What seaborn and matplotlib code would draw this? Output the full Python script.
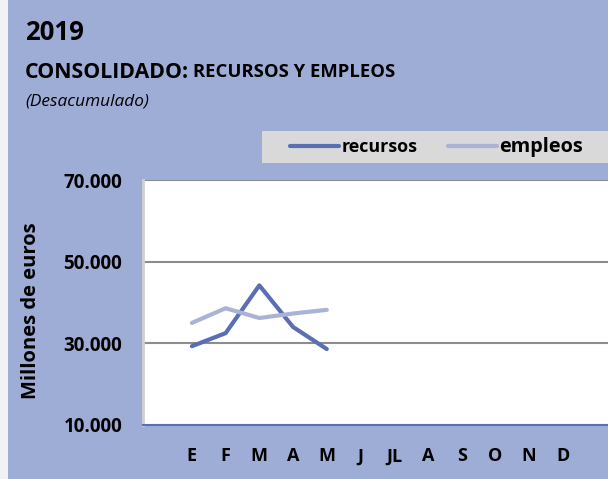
import pandas as pd
import matplotlib.pyplot as plt
import seaborn as sb
from matplotlib.patches import Rectangle
from matplotlib.ticker import FuncFormatter

# datos (millones de euros, desacumulado)
meses = ['E', 'F', 'M', 'A', 'M', 'J', 'JL', 'A', 'S', 'O', 'N', 'D']
recursos = [29300, 32500, 44200, 34000, 28600]
empleos = [35000, 38600, 36200, 37300, 38200]

dados = pd.DataFrame({
    'mes': list(range(len(recursos))) * 2,
    'valor': recursos + empleos,
    'serie': ['recursos'] * len(recursos) + ['empleos'] * len(empleos),
})

sb.set_style('white')
plt.rcParams['font.family'] = ['Open Sans', 'DejaVu Sans']
plt.rcParams['text.color'] = 'black'
plt.rcParams['axes.labelcolor'] = 'black'
plt.rcParams['xtick.color'] = 'black'
plt.rcParams['ytick.color'] = 'black'

fondo = '#9EADD5'
fig = plt.figure(figsize=(6.08, 4.79), dpi=100, facecolor=fondo)
# franja gris a la izquierda
fig.patches.append(Rectangle((0, 0), 8 / 608, 1, transform=fig.transFigure,
                             facecolor='#F2F2F2', edgecolor='none', zorder=0))

ax = fig.add_axes([143 / 608, 1 - 425 / 479, 1 - 143 / 608, (425 - 180) / 479])
sb.lineplot(dados, x='mes', y='valor', hue='serie',
            palette={'recursos': '#5A6EB4', 'empleos': '#AAB3D5'},
            linewidth=3, ax=ax, legend=False)

ax.set_xlim(-1.45, 12.34)
ax.set_ylim(10000, 70000)
ax.set_yticks([10000, 30000, 50000, 70000])
ax.yaxis.set_major_formatter(FuncFormatter(lambda v, p: f'{int(v):,}'.replace(',', '.')))
ax.set_xticks(range(12))
ax.set_xticklabels(meses)
for y in [30000, 50000, 70000]:
    ax.axhline(y, color='#8C8C8C', lw=1.5, zorder=0)
ax.tick_params(axis='y', length=0, pad=15, labelsize=13.5)
ax.tick_params(axis='x', length=0, pad=16, labelsize=13)
for t in ax.get_xticklabels() + ax.get_yticklabels():
    t.set_fontweight('bold')
ax.set_xlabel('')
ax.set_ylabel('Millones de euros', fontsize=14.5, fontweight='bold')
ax.yaxis.set_label_coords(-0.22, 0.465)
ax.spines['left'].set_color('#D0D0D0')
ax.spines['left'].set_linewidth(2)
ax.spines['bottom'].set_color('#5A6EB4')
ax.spines['bottom'].set_linewidth(1.5)
ax.spines['top'].set_visible(False)
ax.spines['right'].set_visible(False)

# titulos
fig.text(25 / 608, 1 - 33 / 479, '2019', fontsize=18.5, fontweight='bold', va='center')
t1 = fig.text(25 / 608, 1 - 72 / 479, 'CONSOLIDADO:', fontsize=15.3, fontweight='bold', va='center')
fig.canvas.draw()
bb = t1.get_window_extent()
fig.text(bb.x1 / 608 + 4 / 608, 1 - 72 / 479, 'RECURSOS Y EMPLEOS', fontsize=13.3,
         fontweight='bold', va='center')
fig.text(25 / 608, 1 - 101 / 479, '(Desacumulado)', fontsize=12.4, style='italic', va='center')

# caja de la leyenda
fig.patches.append(Rectangle((262 / 608, 1 - 163 / 479), (608 - 262) / 608, 32 / 479,
                             transform=fig.transFigure, facecolor='#D9D9D9',
                             edgecolor='none', zorder=1))
lineas = ax.get_lines()
leg = fig.legend([lineas[0], lineas[1]], ['recursos', 'empleos'], loc='center left',
                 bbox_to_anchor=(290 / 608, 1 - 147 / 479), ncol=2, frameon=False,
                 handlelength=2.75, handletextpad=0.15, columnspacing=1.65,
                 borderpad=0, borderaxespad=0, prop={'weight': 'bold', 'size': 12.9})
leg.get_texts()[1].set_fontsize(14.3)
leg.set_zorder(2)

plt.savefig('out.png', dpi=100, facecolor=fondo)
